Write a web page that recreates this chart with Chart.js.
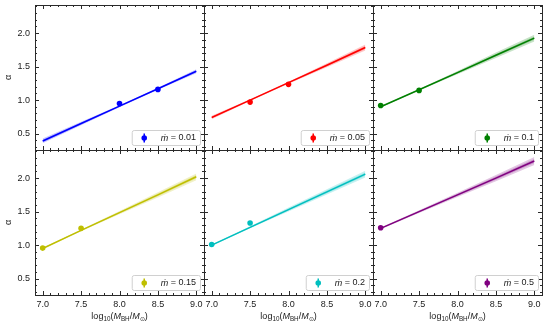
<!DOCTYPE html>
<html>
<head>
<meta charset="utf-8">
<script src="https://cdn.jsdelivr.net/npm/chart.js@4.4.0/dist/chart.umd.min.js"></script>
<style>
  html, body { margin: 0; padding: 0; background: #ffffff; }
  #wrap { position: relative; width: 551px; height: 327px; overflow: hidden; }
  #wrap canvas { position: absolute; left: 0; top: 0; }
</style>
</head>
<body>
<div id="wrap"></div>
<script>
// ---------------- data ----------------
const xMajorTicks = [7.0, 7.5, 8.0, 8.5, 9.0];
const yMajorTicks = [0.5, 1.0, 1.5, 2.0];
const mdotLabels = ['0.01', '0.05', '0.1', '0.15', '0.2', '0.5'];
const seriesColors = ['#0000ff', '#ff0000', '#008000', '#bfbf00', '#00bfbf', '#800080'];

// fit line (x positions shared)
const fitX = [7.0, 7.5, 8.0, 8.5, 9.0];
const fit_001 = [0.39, 0.65, 0.91, 1.17, 1.43];
const fit_005 = [0.74, 1.00, 1.26, 1.52, 1.785];
const fit_01  = [0.90, 1.155, 1.41, 1.67, 1.925];
const fit_015 = [0.95, 1.22, 1.485, 1.75, 2.02];
const fit_02  = [1.00, 1.265, 1.53, 1.795, 2.06];
const fit_05  = [1.25, 1.50, 1.75, 2.00, 2.255];

// half width of the shaded uncertainty band at fitX
const band_001 = [0.035, 0.025, 0.015, 0.015, 0.03];
const band_005 = [0.025, 0.012, 0.015, 0.03, 0.045];
const band_01  = [0.01, 0.01, 0.025, 0.04, 0.05];
const band_015 = [0.01, 0.012, 0.025, 0.04, 0.05];
const band_02  = [0.01, 0.015, 0.03, 0.04, 0.05];
const band_05  = [0.012, 0.02, 0.03, 0.045, 0.06];

// measured points
const ptsX_001 = [8.0, 8.5];  const ptsY_001 = [0.95, 1.16];  const err_001 = [0.03, 0.025];
const ptsX_005 = [7.5, 8.0];  const ptsY_005 = [0.97, 1.235]; const err_005 = [0.03, 0.025];
const ptsX_01  = [7.0, 7.5];  const ptsY_01  = [0.92, 1.145]; const err_01  = [0.025, 0.025];
const ptsX_015 = [7.0, 7.5];  const ptsY_015 = [0.955, 1.25]; const err_015 = [0.025, 0.025];
const ptsX_02  = [7.0, 7.5];  const ptsY_02  = [1.01, 1.33];  const err_02  = [0.025, 0.03];
const ptsX_05  = [7.0];       const ptsY_05  = [1.26];        const err_05  = [0.025];

const fits = [fit_001, fit_005, fit_01, fit_015, fit_02, fit_05];
const bands = [band_001, band_005, band_01, band_015, band_02, band_05];
const ptsX = [ptsX_001, ptsX_005, ptsX_01, ptsX_015, ptsX_02, ptsX_05];
const ptsY = [ptsY_001, ptsY_005, ptsY_01, ptsY_015, ptsY_02, ptsY_05];
const errs = [err_001, err_005, err_01, err_015, err_02, err_05];

// ---------------- layout ----------------
const W = 551, H = 327;
const X0 = 35, PW = 169, Y0 = 5, PH = 145;
const XMIN = 6.9, XMAX = 9.1, YMIN = 0.255, YMAX = 2.42;
const AXW = 30, AXH = 30;
const FONT = '"Liberation Sans", Arial, sans-serif';
const INK = '#1a1a1a';
const TFS = 9;

function rgba(hex, a) {
  const n = parseInt(hex.slice(1), 16);
  return `rgba(${(n >> 16) & 255},${(n >> 8) & 255},${n & 255},${a})`;
}
function minorList(min, max, step, majors) {
  const out = [];
  const k0 = Math.ceil(min / step - 1e-6), k1 = Math.floor(max / step + 1e-6);
  for (let k = k0; k <= k1; k++) {
    const v = +(k * step).toFixed(3);
    if (!majors.some(m => Math.abs(m - v) < 1e-6)) out.push(v);
  }
  return out;
}
const xMinor = minorList(XMIN, XMAX, 0.1, xMajorTicks);
const yMinor = minorList(YMIN, YMAX, 0.1, yMajorTicks);

const panelPlugin = {
  id: 'panelDeco',
  afterDatasetsDraw(chart) {
    const o = chart.options.plugins.panelDeco;
    const ctx = chart.ctx;
    const ys = chart.scales.y;
    const meta = chart.getDatasetMeta(5);
    ctx.save();
    ctx.strokeStyle = o.color;
    ctx.lineWidth = 1.5;
    meta.data.forEach((el, i) => {
      const v = ptsY[o.idx][i], e = errs[o.idx][i];
      ctx.beginPath();
      ctx.moveTo(el.x, ys.getPixelForValue(v - e));
      ctx.lineTo(el.x, ys.getPixelForValue(v + e));
      ctx.stroke();
    });
    ctx.restore();
  },
  afterDraw(chart) {
    const o = chart.options.plugins.panelDeco;
    const ctx = chart.ctx;
    const ca = chart.chartArea;
    const xs = chart.scales.x, ys = chart.scales.y;
    ctx.save();
    ctx.strokeStyle = '#2a2a2a';
    ctx.lineWidth = 1;
    // frame
    ctx.strokeRect(Math.round(ca.left) + 0.5, Math.round(ca.top) + 0.5,
      Math.round(ca.right - ca.left), Math.round(ca.bottom - ca.top));
    // inward ticks on all sides
    const tick = (vals, len, axis) => {
      ctx.beginPath();
      vals.forEach(v => {
        if (axis === 'x') {
          const p = Math.round(xs.getPixelForValue(v)) + 0.5;
          ctx.moveTo(p, ca.bottom); ctx.lineTo(p, ca.bottom - len);
          ctx.moveTo(p, ca.top); ctx.lineTo(p, ca.top + len);
        } else {
          const p = Math.round(ys.getPixelForValue(v)) + 0.5;
          ctx.moveTo(ca.left, p); ctx.lineTo(ca.left + len, p);
          ctx.moveTo(ca.right, p); ctx.lineTo(ca.right - len, p);
        }
      });
      ctx.stroke();
    };
    tick(xMajorTicks, 4, 'x'); tick(xMinor, 2, 'x');
    tick(yMajorTicks, 4, 'y'); tick(yMinor, 2, 'y');

    // legend
    const fs = 9;
    const txtRest = ' = ' + o.label;
    ctx.font = `italic ${fs}px ${FONT}`;
    const wM = ctx.measureText('ṁ').width;
    ctx.font = `${fs}px ${FONT}`;
    const wR = ctx.measureText(txtRest).width;
    const bw = 29 + wM + wR + 4, bh = 15;
    const bx = ca.right - 4 - bw, by = ca.bottom - 5 - bh;
    ctx.beginPath();
    ctx.roundRect(bx + 0.5, by + 0.5, bw, bh, 2);
    ctx.fillStyle = 'rgba(255,255,255,0.85)';
    ctx.fill();
    ctx.strokeStyle = '#d0d0d0';
    ctx.lineWidth = 1;
    ctx.stroke();
    const sx = bx + 12.5, sy = by + bh / 2 + 0.5;
    ctx.strokeStyle = o.color; ctx.lineWidth = 1.5;
    ctx.beginPath(); ctx.moveTo(sx, sy - 4.5); ctx.lineTo(sx, sy + 4.5); ctx.stroke();
    ctx.fillStyle = o.color;
    ctx.beginPath(); ctx.arc(sx, sy, 2.8, 0, Math.PI * 2); ctx.fill();
    ctx.fillStyle = INK;
    ctx.textBaseline = 'middle';
    ctx.textAlign = 'left';
    ctx.font = `italic ${fs}px ${FONT}`;
    ctx.fillText('ṁ', bx + 29, sy);
    ctx.font = `${fs}px ${FONT}`;
    ctx.fillText(txtRest, bx + 29 + wM, sy);

    // axis titles
    if (o.col === 0) {
      ctx.save();
      ctx.translate(9, (ca.top + ca.bottom) / 2);
      ctx.rotate(-Math.PI / 2);
      ctx.textAlign = 'center';
      ctx.textBaseline = 'middle';
      ctx.font = `${TFS}px ${FONT}`;
      ctx.fillText('α', 0, 0);
      ctx.restore();
    }
    if (o.row === 1) {
      const parts = [
        ['log', 9, '', 0], ['10', 6.3, '', 2], ['(', 9, '', 0], ['M', 9, 'italic ', 0],
        ['BH', 6.3, '', 2], ['/', 9, '', 0], ['M', 9, 'italic ', 0], ['⊙', 6.3, '', 2], [')', 9, '', 0]
      ];
      let tw = 0;
      parts.forEach(p => { ctx.font = `${p[2]}${p[1]}px ${FONT}`; tw += ctx.measureText(p[0]).width; });
      let x = (ca.left + ca.right) / 2 - tw / 2;
      const base = 319;
      ctx.textBaseline = 'alphabetic';
      ctx.textAlign = 'left';
      parts.forEach(p => {
        ctx.font = `${p[2]}${p[1]}px ${FONT}`;
        ctx.fillText(p[0], x, base + p[3]);
        x += ctx.measureText(p[0]).width;
      });
    }
    ctx.restore();
  }
};

const wrap = document.getElementById('wrap');
for (let i = 0; i < 6; i++) {
  const col = i % 3, row = Math.floor(i / 3);
  const L = X0 + PW * col, R = L + PW, T = Y0 + PH * row, B = T + PH;
  const cv = document.createElement('canvas');
  cv.width = W; cv.height = H;
  cv.style.width = W + 'px'; cv.style.height = H + 'px';
  wrap.appendChild(cv);
  const c = seriesColors[i];
  const fit = fits[i], hw = bands[i];
  const pts = (xs, ys) => xs.map((x, k) => ({ x: x, y: ys[k] }));
  const up = (f) => fitX.map((x, k) => ({ x: x, y: fit[k] + hw[k] * f }));
  const lo = (f) => fitX.map((x, k) => ({ x: x, y: fit[k] - hw[k] * f }));
  new Chart(cv, {
    type: 'line',
    data: {
      datasets: [
        { data: up(1), borderWidth: 0, pointRadius: 0, fill: '+1', backgroundColor: rgba(c, 0.22) },
        { data: lo(1), borderWidth: 0, pointRadius: 0, fill: false },
        { data: up(0.5), borderWidth: 0, pointRadius: 0, fill: '+1', backgroundColor: rgba(c, 0.25) },
        { data: lo(0.5), borderWidth: 0, pointRadius: 0, fill: false },
        { data: pts(fitX, fit), borderColor: c, borderWidth: 1.5, pointRadius: 0, fill: false },
        { data: pts(ptsX[i], ptsY[i]), showLine: false, pointRadius: 2.8, pointBorderWidth: 0,
          pointBackgroundColor: c, borderColor: c }
      ]
    },
    options: {
      responsive: false,
      animation: false,
      devicePixelRatio: 1,
      events: [],
      layout: { padding: { left: L - AXW, right: W - R, top: T, bottom: H - B - AXH } },
      plugins: {
        legend: { display: false },
        tooltip: { enabled: false },
        panelDeco: { idx: i, color: c, label: mdotLabels[i], col: col, row: row }
      },
      scales: {
        x: {
          type: 'linear', min: XMIN, max: XMAX,
          grid: { display: false, drawTicks: false },
          border: { display: false },
          afterBuildTicks: (s) => { s.ticks = xMajorTicks.map(v => ({ value: v })); },
          afterFit: (s) => { s.height = AXH; s.paddingLeft = 0; s.paddingRight = 0; },
          ticks: {
            display: row === 1, maxRotation: 0, autoSkip: false, padding: 4,
            color: INK, font: { family: FONT, size: TFS },
            callback: (v) => Number(v).toFixed(1)
          }
        },
        y: {
          type: 'linear', min: YMIN, max: YMAX,
          grid: { display: false, drawTicks: false },
          border: { display: false },
          afterBuildTicks: (s) => { s.ticks = yMajorTicks.map(v => ({ value: v })); },
          afterFit: (s) => { s.width = AXW; s.paddingTop = 0; s.paddingBottom = 0; },
          ticks: {
            display: col === 0, autoSkip: false, padding: 5,
            color: INK, font: { family: FONT, size: TFS },
            callback: (v) => Number(v).toFixed(1)
          }
        }
      }
    },
    plugins: [panelPlugin]
  });
}
</script>
</body>
</html>
